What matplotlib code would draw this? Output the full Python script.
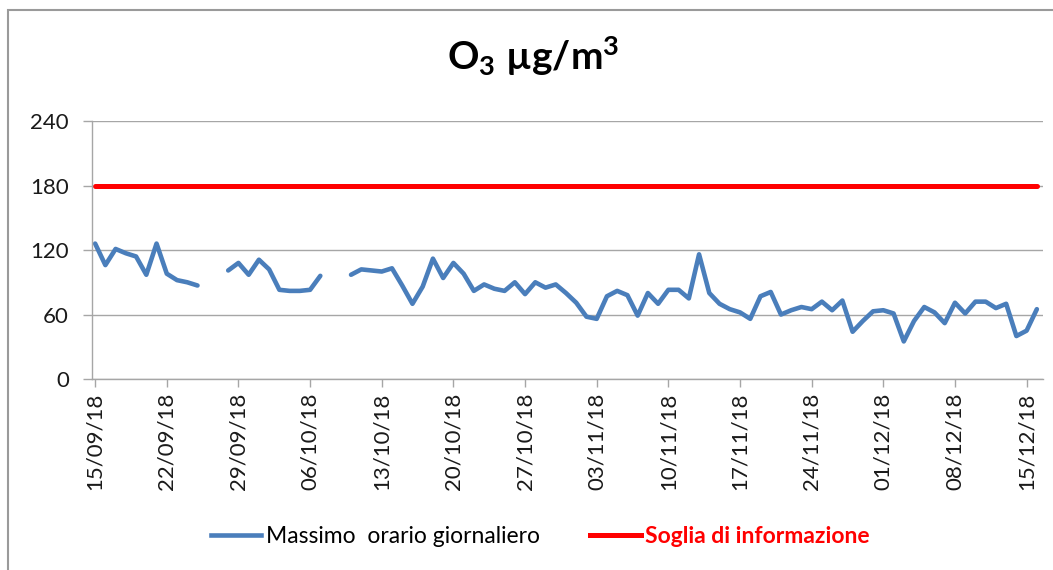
import numpy as np
import pandas as pd
import matplotlib.pyplot as plt
import matplotlib.dates as mdates
from matplotlib.lines import Line2D
from matplotlib.patches import Rectangle

plt.rcParams['font.family'] = ['Lato', 'DejaVu Sans']
plt.rcParams['mathtext.fontset'] = 'custom'
plt.rcParams['mathtext.rm'] = 'Lato'
plt.rcParams['mathtext.bf'] = 'Lato:bold'
plt.rcParams['mathtext.it'] = 'Lato:italic'

# valori giornalieri (NaN = dato mancante)
nan = np.nan
giorni = pd.date_range("2018-09-15", periods=93, freq="D")
massimo_orario = [
    126, 106, 121, 117, 114, 97, 126, 98, 92, 90, 87,
    nan, nan,
    101, 108, 97, 111, 102, 83, 82, 82, 83, 96,
    nan, nan,
    97, 102, 101, 100, 103, 87, 70, 86, 112, 94,
    108, 98, 82, 88, 84, 82, 90, 79, 90, 85,
    88, 80, 71, 58, 56, 77, 82, 78, 59, 80,
    70, 83, 83, 75, 116, 80, 70, 65, 62, 56,
    77, 81, 60, 64, 67, 65, 72, 64, 73, 44,
    54, 63, 64, 61, 35, 54, 67, 62, 52, 71,
    61, 72, 72, 66, 70, 40, 45, 65,
]
soglia_informazione = 180
tick_giorni = pd.date_range("2018-09-15", "2018-12-15", freq="7D")
y_ticks = [0, 60, 120, 180, 240]

blu = "#4a7ebb"
rosso = "#ff0000"
grigio = "#a6a6a6"

fig = plt.figure(figsize=(10.53, 5.7), dpi=100)
ax = fig.add_axes([0.0871, 0.335, 0.9034, 0.4527])

ax.plot(giorni, massimo_orario, color=blu, lw=3.3, solid_capstyle="round",
        solid_joinstyle="round")
ax.plot(giorni, [soglia_informazione] * len(giorni), color=rosso, lw=3.6,
        solid_capstyle="round")

ax.set_ylim(0, 240)
ax.set_yticks(y_ticks)
ax.set_xlim(giorni[0] - pd.Timedelta(hours=8), giorni[0] + pd.Timedelta(days=92.6))
ax.set_xticks(tick_giorni)
ax.xaxis.set_major_formatter(mdates.DateFormatter("%d/%m/%y"))
plt.setp(ax.get_xticklabels(), rotation=90)

ax.grid(axis="y", color=grigio, lw=1.0)
ax.set_axisbelow(True)
for s in ["top", "right"]:
    ax.spines[s].set_visible(False)
for s in ["left", "bottom"]:
    ax.spines[s].set_color(grigio)
    ax.spines[s].set_linewidth(1.0)
ax.tick_params(axis="y", length=6.5, width=1.0, color=grigio, pad=10,
               labelsize=16, labelcolor="#1a1a1a")
ax.tick_params(axis="x", length=6, width=1.0, color=grigio, pad=4,
               labelsize=16, labelcolor="#1a1a1a")

fig.text(0.506, 1 - 70 / 570, r"$\mathbf{O_3\ µg/m^3}$", ha="center",
         va="baseline", fontsize=28)

handles = [Line2D([], [], color=blu, lw=3.3), Line2D([], [], color=rosso, lw=3.6)]
leg = fig.legend(handles, ["Massimo  orario giornaliero", "Soglia di informazione"],
                 loc="center", bbox_to_anchor=(0.513, 0.058), ncol=2,
                 frameon=False, fontsize=16.5, handlelength=2.2,
                 handletextpad=0.2, columnspacing=2.2)
txt = leg.get_texts()[1]
txt.set_color(rosso)
txt.set_fontweight("bold")

# cornice del grafico
fig.patches.append(Rectangle((8 / 1053, -0.1), 1.2, 1.1 - 10 / 570,
                             transform=fig.transFigure, fill=False,
                             edgecolor="#9a9a9a", lw=1.5))

plt.savefig("out.png", dpi=100)
